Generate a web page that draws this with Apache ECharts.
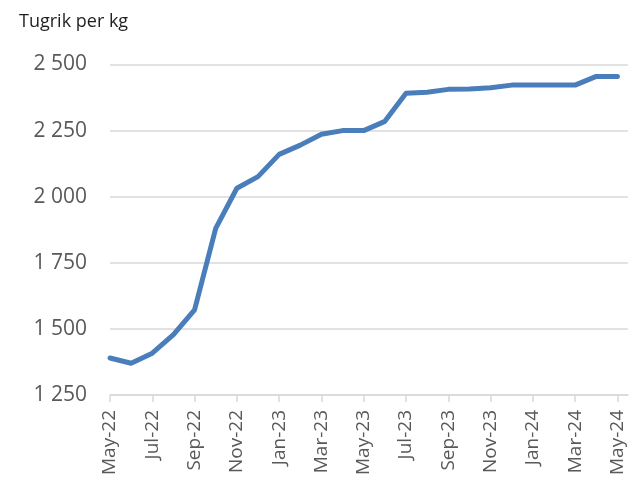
<!DOCTYPE html>
<html>
<head>
<meta charset="utf-8">
<script src="https://cdn.jsdelivr.net/npm/echarts@6/dist/echarts.min.js"></script>
<style>
  html, body { margin: 0; padding: 0; background: #fff; }
  #chart { width: 640px; height: 487px; }
</style>
</head>
<body>
<div id="chart"></div>
<script>
// Monthly months, May 2022 to May 2024
const months = [
  'May-22','Jun-22','Jul-22','Aug-22','Sep-22','Oct-22','Nov-22','Dec-22',
  'Jan-23','Feb-23','Mar-23','Apr-23','May-23','Jun-23','Jul-23','Aug-23',
  'Sep-23','Oct-23','Nov-23','Dec-23','Jan-24','Feb-24','Mar-24','Apr-24','May-24'
];
// Price, tugrik per kg
const prices = [
  1390, 1370, 1408, 1478, 1572, 1880, 2032, 2076,
  2160, 2195, 2236, 2250, 2250, 2285, 2391, 2395,
  2406, 2407, 2412, 2422, 2422, 2422, 2422, 2455, 2455
];
// Every second month gets a tick and label
const labelIdx = months.map((m, i) => i).filter(i => i % 2 === 0);
const yTicks = [1250, 1500, 1750, 2000, 2250, 2500];

const fmtThousands = v => {
  const s = String(Math.round(v));
  return s.replace(/\B(?=(\d{3})+(?!\d))/g, ' ');
};

const chart = echarts.init(document.getElementById('chart'), null, { renderer: 'canvas' });
chart.setOption({
  animation: false,
  backgroundColor: '#ffffff',
  title: {
    text: 'Tugrik per kg',
    left: 14,
    top: 8,
    textStyle: { fontFamily: 'Open Sans', fontSize: 18, fontWeight: 'normal', color: '#1f1f1f' }
  },
  grid: { left: 110, right: 12, top: 64.5, bottom: 92, containLabel: false },
  xAxis: {
    type: 'value',
    min: 0,
    max: 24.5,
    interval: 2,
    axisLine: { show: true, lineStyle: { color: '#d9d9d9', width: 1.5 } },
    axisTick: { show: true, length: 7, customValues: labelIdx, lineStyle: { color: '#d9d9d9', width: 1.5 } },
    splitLine: { show: false },
    axisLabel: {
      customValues: labelIdx,
      rotate: 90,
      margin: 15,
      fontFamily: 'Open Sans',
      fontSize: 19,
      color: '#595959',
      formatter: v => months[Math.round(v)] || ''
    }
  },
  yAxis: {
    type: 'value',
    min: yTicks[0],
    max: yTicks[yTicks.length - 1],
    interval: 250,
    axisLine: { show: false },
    axisTick: { show: false },
    splitLine: { lineStyle: { color: '#d9d9d9', width: 1.5 } },
    axisLabel: {
      margin: 23,
      fontFamily: 'Open Sans',
      fontSize: 21,
      color: '#595959',
      formatter: fmtThousands
    }
  },
  series: [{
    type: 'line',
    data: prices.map((p, i) => [i, p]),
    showSymbol: false,
    smooth: false,
    lineStyle: { color: '#4a7ebb', width: 5, cap: 'round', join: 'round' },
    itemStyle: { color: '#4a7ebb' }
  }]
});
</script>
</body>
</html>
